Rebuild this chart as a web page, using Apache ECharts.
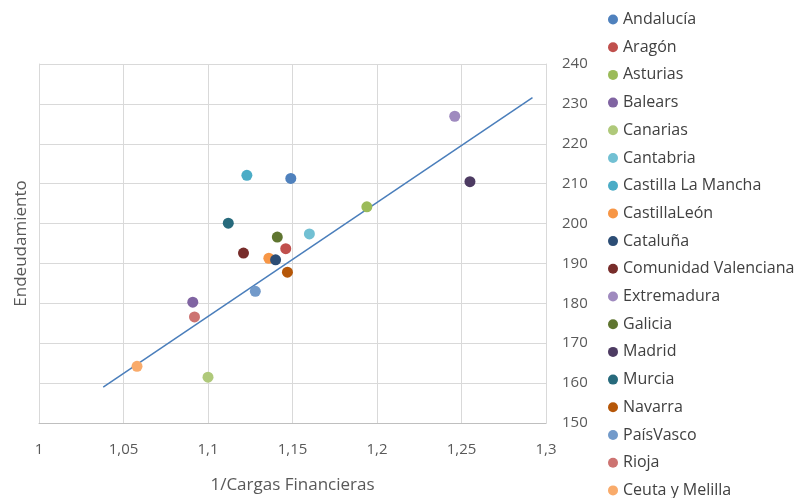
<!DOCTYPE html>
<html>
<head>
<meta charset="utf-8">
<script src="https://cdn.jsdelivr.net/npm/echarts@6/dist/echarts.min.js"></script>
<style>html,body{margin:0;padding:0;background:#fff}#c{width:801px;height:498px}</style>
</head>
<body>
<div id="c"></div>
<script>
var regions = ["Andalucía","Aragón","Asturias","Balears","Canarias","Cantabria","Castilla La Mancha","CastillaLeón","Cataluña","Comunidad Valenciana","Extremadura","Galicia","Madrid","Murcia","Navarra","PaísVasco","Rioja","Ceuta y Melilla"];
var cargasInv = [1.149,1.146,1.194,1.091,1.100,1.160,1.123,1.136,1.140,1.121,1.246,1.141,1.255,1.112,1.147,1.128,1.092,1.058];
var endeudamiento = [211.3,193.7,204.2,180.3,161.5,197.4,212.1,191.3,190.9,192.6,226.9,196.6,210.5,200.1,187.8,183.0,176.6,164.2];
var trendX = [1.038,1.292];
var trendY = [159.0,231.6];
var xTicks = {min:1, max:1.3, interval:0.05};
var yTicks = {min:150, max:240, interval:10};
var palette = ["#4F81BD","#C0504D","#9BBB59","#8064A2","#AFC97A","#72C0D3","#4BACC6","#F79646","#2C4D75","#772C2A","#9F8ABF","#5F7530","#4D3B62","#276A7C","#B65708","#729ACA","#CD7371","#F9AB6B"];

var FONT = "Open Sans";
var series = regions.map(function(name, i){
  return {
    name: name, type: 'scatter', symbol: 'circle', symbolSize: 11,
    itemStyle: {color: palette[i], opacity: 1},
    data: [[cargasInv[i], endeudamiento[i]]],
    z: 3
  };
});
series.push({
  name: 'Tendencia', type: 'line', symbol: 'none', silent: true,
  lineStyle: {color: '#4A7EBB', width: 1.5},
  data: trendX.map(function(x, i){ return [x, trendY[i]]; }),
  z: 2
});

var chart = echarts.init(document.getElementById('c'), null, {renderer: 'canvas'});
chart.setOption({
  animation: false,
  backgroundColor: '#fff',
  textStyle: {fontFamily: FONT},
  grid: {left: 39, right: 255, top: 64, bottom: 75, containLabel: false, outerBoundsMode: 'none'},
  legend: {
    data: regions, orient: 'vertical', left: 608, top: 11, height: 490, padding: 0,
    icon: 'circle', itemWidth: 10, itemHeight: 10, itemGap: 10.7,
    textStyle: {fontFamily: FONT, fontSize: 16, color: '#404040', lineHeight: 17}
  },
  xAxis: {
    type: 'value', min: xTicks.min, max: xTicks.max, interval: xTicks.interval,
    name: '1/Cargas Financieras', nameLocation: 'middle', nameGap: 54,
    nameTextStyle: {fontFamily: FONT, fontSize: 17, color: '#595959'},
    axisLine: {show: true, lineStyle: {color: '#BFBFBF'}},
    axisTick: {show: false},
    axisLabel: {margin: 19, fontFamily: FONT, fontSize: 15, color: '#595959',
      formatter: function(v){ return String(+v.toFixed(2)).replace('.', ','); }},
    splitLine: {show: true, lineStyle: {color: '#D9D9D9', width: 1}}
  },
  yAxis: [{
    type: 'value', position: 'right', min: yTicks.min, max: yTicks.max, interval: yTicks.interval,
    axisLine: {show: true, lineStyle: {color: '#D9D9D9'}},
    axisTick: {show: false},
    axisLabel: {margin: 16, fontFamily: FONT, fontSize: 15, color: '#595959'},
    splitLine: {show: true, lineStyle: {color: '#D9D9D9', width: 1}}
  },{
    type: 'value', position: 'left', min: yTicks.min, max: yTicks.max, interval: yTicks.interval,
    name: 'Endeudamiento', nameLocation: 'middle', nameGap: 9, nameRotate: 90,
    nameTextStyle: {fontFamily: FONT, fontSize: 17, color: '#595959'},
    axisLine: {show: true, lineStyle: {color: '#D9D9D9'}},
    axisTick: {show: false}, axisLabel: {show: false}, splitLine: {show: false}
  }],
  series: series
});
</script>
</body>
</html>
